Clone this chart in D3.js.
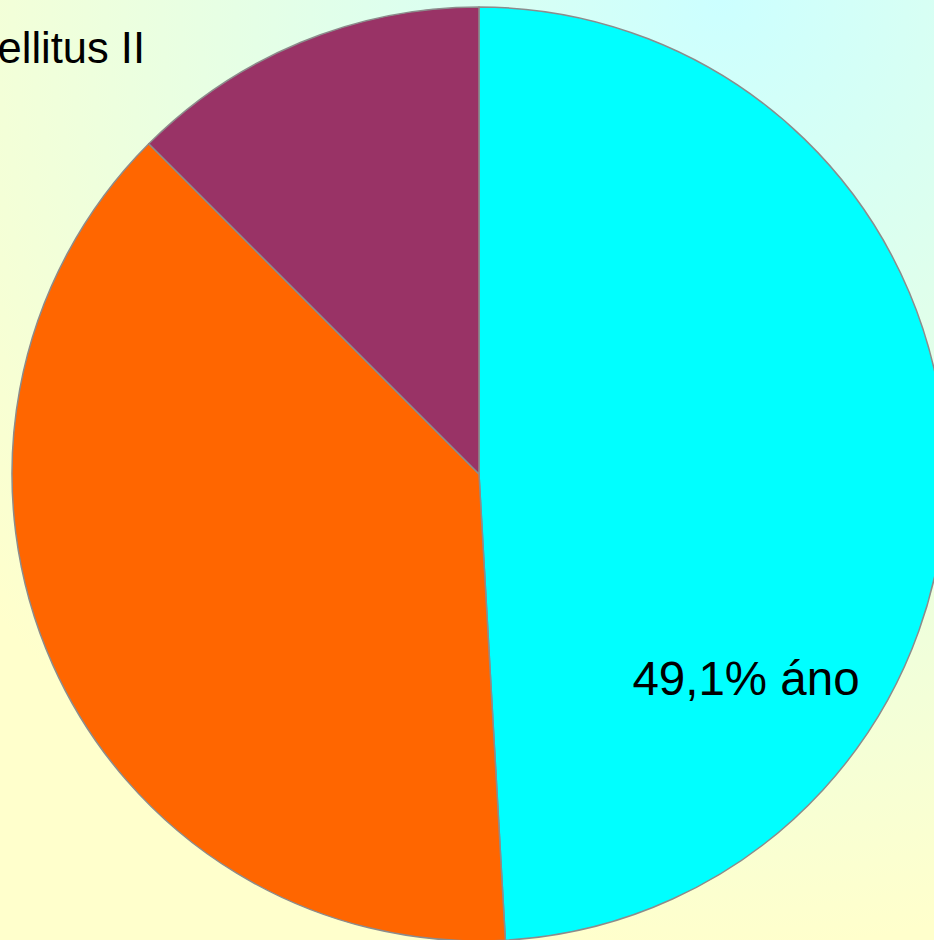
<!DOCTYPE html>
<html>
<head>
<meta charset="utf-8">
<script src="https://cdn.jsdelivr.net/npm/d3@7"></script>
<style>
html,body{margin:0;padding:0;overflow:hidden;}
svg{display:block;}
</style>
</head>
<body>
<script>
const categories = ["áno", "Diabetes mellitus II", "nie"];
const values = [49.1, 38.4, 12.5];
const colors = ["#00ffff", "#ff6600", "#993366"];

const W = 934, H = 940;
const cx = 479, cy = 474, R = 467;

const svg = d3.select("body").append("svg").attr("width", W).attr("height", H);
const defs = svg.append("defs");
const grad = defs.append("radialGradient").attr("id", "bg")
  .attr("gradientUnits", "userSpaceOnUse")
  .attr("cx", 720).attr("cy", 0).attr("r", 950);
grad.append("stop").attr("offset", 0).attr("stop-color", "#ccffff");
grad.append("stop").attr("offset", 1).attr("stop-color", "#ffffcc");
svg.append("rect").attr("width", W).attr("height", H).attr("fill", "url(#bg)");

const pie = d3.pie().sort(null).value(d => d);
const arcs = pie(values);
const arc = d3.arc().innerRadius(0).outerRadius(R);

const g = svg.append("g").attr("transform", `translate(${cx},${cy})`);
g.selectAll("path").data(arcs).enter().append("path")
  .attr("d", arc)
  .attr("fill", (d, i) => colors[i])
  .attr("stroke", "#8c8c8c")
  .attr("stroke-width", 1.5)
  .attr("stroke-linejoin", "round");

const fmt = v => d3.format(".1f")(v).replace(".", ",");

// label for first slice
svg.append("text")
  .attr("x", 746).attr("y", 695)
  .attr("text-anchor", "middle")
  .attr("font-family", "Liberation Sans, Arial, sans-serif")
  .attr("font-size", 47.5)
  .attr("fill", "#000")
  .text(fmt(values[0]) + "% " + categories[0]);

// clipped label at top-left
svg.append("text")
  .attr("x", 145).attr("y", 63)
  .attr("text-anchor", "end")
  .attr("font-family", "Liberation Sans, Arial, sans-serif")
  .attr("font-size", 43.5)
  .attr("fill", "#000")
  .text(categories[1]);
</script>
</body>
</html>
